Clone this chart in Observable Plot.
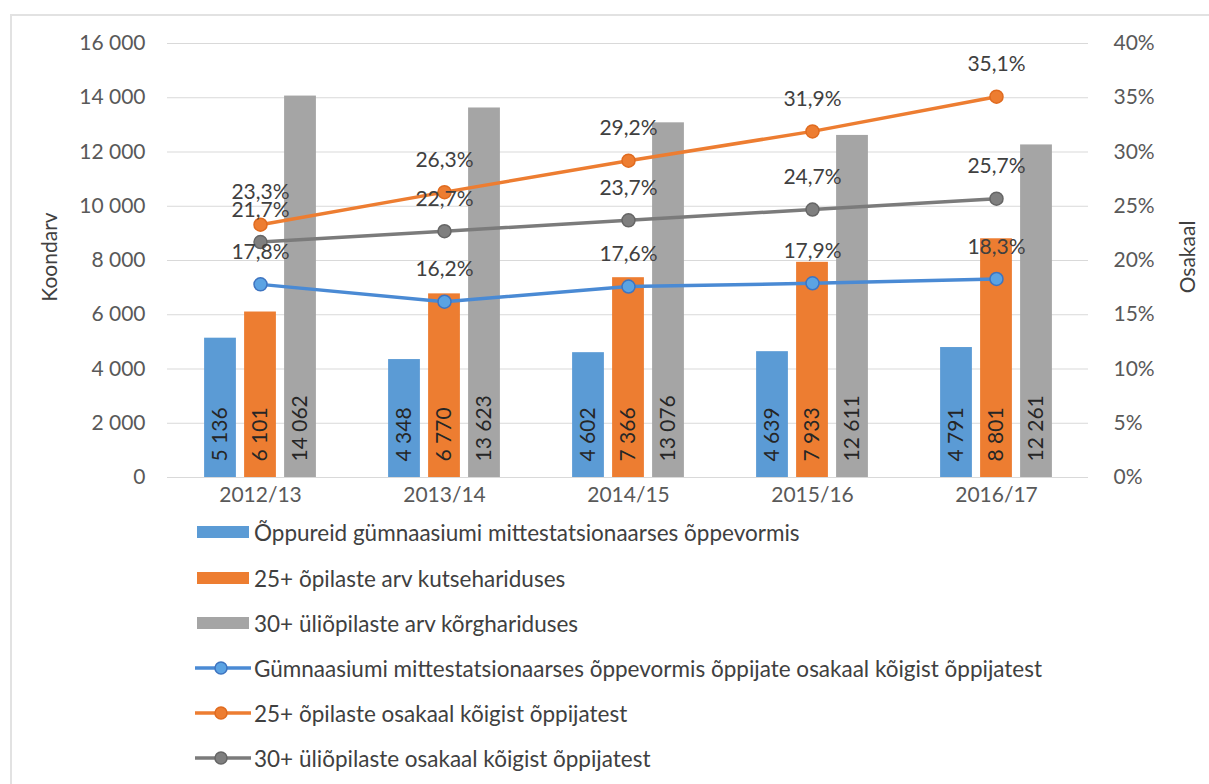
<!DOCTYPE html>
<html><head><meta charset="utf-8">
<script src="https://cdn.jsdelivr.net/npm/d3@7"></script>
<script src="https://cdn.jsdelivr.net/npm/@observablehq/plot@0.6"></script>
<style>
body{margin:0;background:#fff;font-family:Lato,"Liberation Sans",sans-serif;}
#wrap{position:relative;width:1209px;height:784px;overflow:hidden;background:#fff;}
#frame{position:absolute;left:10px;top:14px;width:1205px;height:800px;border:2px solid #E2E2E2;box-sizing:border-box;}
#chart{position:absolute;left:0;top:0;}
.ytitle{position:absolute;font-size:21px;color:#404040;white-space:nowrap;transform:translate(-50%,-50%) rotate(-90deg);}
.li{position:absolute;left:193px;height:24px;display:flex;align-items:center;font-size:22.5px;color:#404040;white-space:nowrap;}
.li svg{margin-right:3px;}
</style></head>
<body>
<div id="wrap">
  <div id="frame"></div>
  <div id="chart"></div>
  <div class="ytitle" style="left:48px;top:257px;">Koondarv</div>
  <div class="ytitle" style="left:1186px;top:257px;">Osakaal</div>
  <div id="legend"></div>
</div>
<script>
const years = ["2012/13", "2013/14", "2014/15", "2015/16", "2016/17"];
const gymnCount = [5136, 4348, 4602, 4639, 4791];
const vocCount = [6101, 6770, 7366, 7933, 8801];
const uniCount = [14062, 13623, 13076, 12611, 12261];
const gymnShare = [17.8, 16.2, 17.6, 17.9, 18.3];
const vocShare = [23.3, 26.3, 29.2, 31.9, 35.1];
const uniShare = [21.7, 22.7, 23.7, 24.7, 25.7];
const leftTicks = [0, 2000, 4000, 6000, 8000, 10000, 12000, 14000, 16000];
const rightTickLabels = ["0%", "5%", "10%", "15%", "20%", "25%", "30%", "35%", "40%"];
const barNames = [
  "Õppureid gümnaasiumi mittestatsionaarses õppevormis",
  "25+ õpilaste arv kutsehariduses",
  "30+ üliõpilaste arv kõrghariduses"
];
const lineNames = [
  "Gümnaasiumi mittestatsionaarses õppevormis õppijate osakaal kõigist õppijatest",
  "25+ õpilaste osakaal kõigist õppijatest",
  "30+ üliõpilaste osakaal kõigist õppijatest"
];

const C = {blue: "#5B9BD5", orange: "#ED7D31", gray: "#A5A5A5"};
const lineCol = {blue: "#4A8AD4", orange: "#ED7D31", gray: "#7B7B7B"};
const dotFill = {blue: "#5BA3E3", orange: "#ED7D31", gray: "#7F7F7F"};
const dotStroke = {blue: "#3E74C0", orange: "#E06B1F", gray: "#666666"};

const loc = d3.formatLocale({decimal: ",", thousands: "\u00a0", grouping: [3], currency: ["", ""]});
const fmtN = loc.format(",d");
const fmtP = v => v.toFixed(1).replace(".", ",") + "%";

const bars = [
  {vals: gymnCount, fill: C.blue, dx: -40},
  {vals: vocCount, fill: C.orange, dx: 0},
  {vals: uniCount, fill: C.gray, dx: 40}
].map(s => ({...s, data: years.map((y, i) => ({year: y, v: s.vals[i]}))}));

const lines = [
  {vals: gymnShare, key: "blue"},
  {vals: vocShare, key: "orange"},
  {vals: uniShare, key: "gray"}
].map(s => ({...s, data: years.map((y, i) => ({year: y, v: s.vals[i], y: s.vals[i] / 40 * 16000}))}));

const W = 1209, H = 510, mL = 167, mR = 121, mT = 43, mB = 33;
const bw = (W - mL - mR) / years.length;
const inset = (bw - 32) / 2;

const marks = [
  Plot.ruleY(leftTicks, {stroke: "#D9D9D9", strokeWidth: 1}),
  Plot.axisY({ticks: leftTicks, tickFormat: fmtN, tickSize: 0, tickPadding: 22, fontSize: 21, color: "#595959", label: null, anchor: "left"}),
  Plot.axisY({ticks: leftTicks, tickFormat: (d, i) => rightTickLabels[leftTicks.indexOf(d)], tickSize: 0, tickPadding: 25, fontSize: 21, color: "#595959", label: null, anchor: "right"}),
  Plot.axisX({tickSize: 0, tickPadding: 10, fontSize: 21, color: "#595959", label: null})
];
for (const b of bars) {
  marks.push(Plot.barY(b.data, {x: "year", y: "v", fill: b.fill, dx: b.dx, insetLeft: inset, insetRight: inset}));
}
for (const b of bars) {
  marks.push(Plot.text(b.data, {x: "year", y: () => 0, text: d => fmtN(d.v), rotate: -90, textAnchor: "start", dx: b.dx, dy: -16, fontSize: 21, fill: "#262626"}));
}
for (const l of lines) {
  marks.push(Plot.lineY(l.data, {x: "year", y: "y", stroke: lineCol[l.key], strokeWidth: 3.5}));
}
for (const l of lines) {
  marks.push(Plot.dot(l.data, {x: "year", y: "y", r: 6.5, fill: dotFill[l.key], stroke: dotStroke[l.key], strokeWidth: 1.5}));
}
for (const l of lines) {
  marks.push(Plot.text(l.data, {x: "year", y: "y", text: d => fmtP(d.v), dy: -32, fontSize: 21, fill: "#404040"}));
}

const chart = Plot.plot({
  width: W, height: H,
  marginLeft: mL, marginRight: mR, marginTop: mT, marginBottom: mB,
  style: {fontFamily: "Lato, 'Liberation Sans', sans-serif", fontSize: "21px", background: "transparent", overflow: "visible"},
  x: {type: "band", domain: years, padding: 0, axis: null},
  y: {domain: [0, 16000], axis: null},
  marks
});
document.getElementById("chart").appendChild(chart);

// legend
const leg = document.getElementById("legend");
const centers = [532, 578, 623, 668, 713, 758];
const items = [
  ...barNames.map((n, i) => ({name: n, type: "bar", col: [C.blue, C.orange, C.gray][i]})),
  ...lineNames.map((n, i) => ({name: n, type: "line", key: ["blue", "orange", "gray"][i]}))
];
items.forEach((it, i) => {
  const div = document.createElement("div");
  div.className = "li";
  div.style.top = (centers[i] - 12) + "px";
  let sw;
  if (it.type === "bar") {
    sw = `<svg width="58" height="24"><rect x="4" y="6" width="52" height="12" fill="${it.col}"/></svg>`;
  } else {
    sw = `<svg width="58" height="24"><line x1="2" x2="58" y1="12" y2="12" stroke="${lineCol[it.key]}" stroke-width="3.5"/><circle cx="28" cy="12" r="6" fill="${dotFill[it.key]}" stroke="${dotStroke[it.key]}" stroke-width="1.5"/></svg>`;
  }
  div.innerHTML = sw + `<span>${it.name}</span>`;
  leg.appendChild(div);
});
</script>
</body></html>
